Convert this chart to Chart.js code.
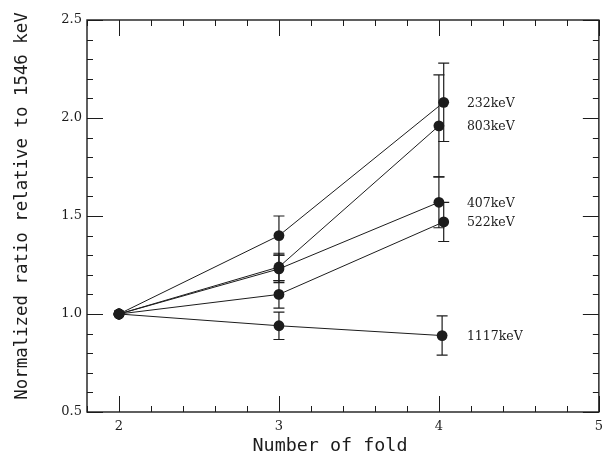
<!DOCTYPE html>
<html>
<head>
<meta charset="utf-8">
<script src="https://cdn.jsdelivr.net/npm/chart.js@4.4.0/dist/chart.umd.min.js"></script>
<style>
    body { margin: 0; background: #fff; }
    #wrap { width: 610px; height: 464px; }
</style>
</head>
<body>
<div id="wrap"><canvas id="foldChart" width="610" height="464"></canvas></div>
<script>
// values
const lineNames = ['232keV', '803keV', '407keV', '522keV', '1117keV'];
const foldX = [
    [2, 3, 4.03],
    [2, 3, 4.00],
    [2, 3, 4.00],
    [2, 3, 4.03],
    [2, 3, 4.02]
];
const ratio232 = [1.00, 1.40, 2.08];
const ratio803 = [1.00, 1.24, 1.96];
const ratio407 = [1.00, 1.23, 1.57];
const ratio522 = [1.00, 1.10, 1.47];
const ratio1117 = [1.00, 0.94, 0.89];
const err232 = [0, 0.10, 0.20];
const err803 = [0, 0.07, 0.26];
const err407 = [0, 0.07, 0.13];
const err522 = [0, 0.07, 0.10];
const err1117 = [0, 0.07, 0.10];
const xTickValues = [2, 3, 4, 5];
const yTickValues = [0.5, 1.0, 1.5, 2.0, 2.5];
const xTitle = 'Number of fold';
const yTitle = 'Normalized ratio relative to 1546 keV';

const ratios = [ratio232, ratio803, ratio407, ratio522, ratio1117];
const errors = [err232, err803, err407, err522, err1117];
const ink = '#1c1c1c';

const datasets = lineNames.map((name, i) => ({
    label: name,
    data: ratios[i].map((v, j) => ({ x: foldX[i][j], y: v })),
    errs: errors[i],
    showLine: true,
    borderColor: ink,
    borderWidth: 1,
    pointRadius: 5.4,
    pointBackgroundColor: ink,
    pointBorderColor: ink,
    pointBorderWidth: 0
}));

// frame, inward ticks on all four sides, error bars, line labels and axis titles
const decorate = {
    id: 'decorate',
    afterDatasetsDraw(chart) {
        const { ctx, chartArea: a, scales: { x, y } } = chart;
        ctx.save();
        ctx.strokeStyle = ink;

        // error bars
        ctx.lineWidth = 1.2;
        chart.data.datasets.forEach(ds => {
            ds.data.forEach((p, j) => {
                const e = ds.errs[j];
                if (!e) return;
                const px = x.getPixelForValue(p.x);
                const top = y.getPixelForValue(p.y + e);
                const bot = y.getPixelForValue(p.y - e);
                ctx.beginPath();
                ctx.moveTo(px, top); ctx.lineTo(px, bot);
                ctx.moveTo(px - 5.5, top); ctx.lineTo(px + 5.5, top);
                ctx.moveTo(px - 5.5, bot); ctx.lineTo(px + 5.5, bot);
                ctx.stroke();
            });
        });

        // ticks
        ctx.lineWidth = 1;
        ctx.beginPath();
        for (let v = x.min; v <= x.max + 1e-6; v += 0.2) {
            const px = Math.round(x.getPixelForValue(v)) + 0.5;
            const len = Math.abs(v - Math.round(v)) < 1e-6 ? 16 : 6;
            ctx.moveTo(px, a.bottom); ctx.lineTo(px, a.bottom - len);
            ctx.moveTo(px, a.top); ctx.lineTo(px, a.top + len);
        }
        for (let v = y.min; v <= y.max + 1e-6; v += 0.1) {
            const py = Math.round(y.getPixelForValue(v)) + 0.5;
            const len = Math.abs(v * 2 - Math.round(v * 2)) < 1e-6 ? 16 : 6;
            ctx.moveTo(a.left, py); ctx.lineTo(a.left + len, py);
            ctx.moveTo(a.right, py); ctx.lineTo(a.right - len, py);
        }
        ctx.stroke();

        // frame
        ctx.lineWidth = 1.4;
        ctx.strokeRect(a.left, a.top, a.right - a.left, a.bottom - a.top);

        // labels next to the last points
        ctx.fillStyle = ink;
        ctx.font = '12.5px "DejaVu Serif"';
        ctx.textBaseline = 'middle';
        ctx.textAlign = 'left';
        chart.data.datasets.forEach(ds => {
            const last = ds.data[ds.data.length - 1];
            ctx.fillText(ds.label, x.getPixelForValue(4) + 28, y.getPixelForValue(last.y) + 1);
        });

        // axis titles
        ctx.textAlign = 'center';
        ctx.font = '18.4px "DejaVu Sans Mono"';
        ctx.fillText(xTitle, 330, 446);
        ctx.translate(22, 206);
        ctx.rotate(-Math.PI / 2);
        ctx.font = '17.4px "DejaVu Sans Mono"';
        ctx.fillText(yTitle, 0, 0);
        ctx.restore();
    }
};

new Chart(document.getElementById('foldChart').getContext('2d'), {
    type: 'scatter',
    data: { datasets },
    options: {
        responsive: false,
        animation: false,
        layout: { padding: { top: 20, right: 8, left: 0, bottom: 0 } },
        plugins: { legend: { display: false }, tooltip: { enabled: false } },
        scales: {
            x: {
                type: 'linear',
                min: 1.8,
                max: 5,
                afterBuildTicks: s => { s.ticks = xTickValues.map(v => ({ value: v })); },
                afterFit: s => { s.height = 52; },
                grid: { display: false, drawTicks: false },
                border: { display: false },
                ticks: {
                    autoSkip: false,
                    maxRotation: 0,
                    padding: 7,
                    color: ink,
                    font: { family: '"DejaVu Serif"', size: 13 },
                    callback: v => String(v)
                }
            },
            y: {
                type: 'linear',
                min: 0.5,
                max: 2.5,
                afterBuildTicks: s => { s.ticks = yTickValues.map(v => ({ value: v })); },
                afterFit: s => { s.width = 87; },
                grid: { display: false, drawTicks: false },
                border: { display: false },
                ticks: {
                    autoSkip: false,
                    padding: 5,
                    color: ink,
                    font: { family: '"DejaVu Serif"', size: 13 },
                    callback: v => Number(v).toFixed(1)
                }
            }
        }
    },
    plugins: [decorate]
});
</script>
</body>
</html>
